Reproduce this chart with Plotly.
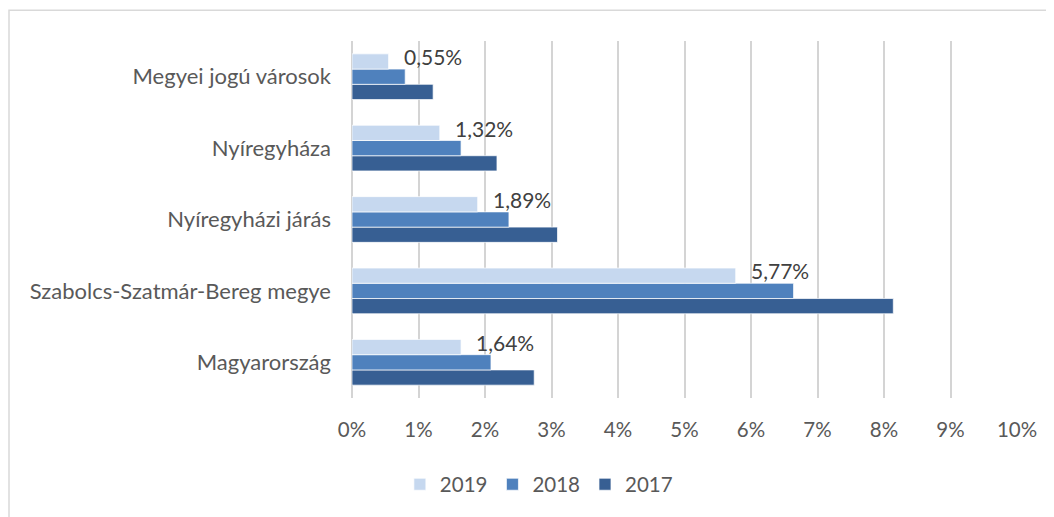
import plotly.graph_objects as go

categories = ["Magyarország", "Szabolcs-Szatmár-Bereg megye", "Nyíregyházi járás",
              "Nyíregyháza", "Megyei jogú városok"]
v2017 = [2.74, 8.14, 3.09, 2.18, 1.22]
v2018 = [2.09, 6.64, 2.36, 1.64, 0.80]
v2019 = [1.64, 5.77, 1.89, 1.32, 0.55]
labels2019 = ["1,64%", "5,77%", "1,89%", "1,32%", "0,55%"]
tick_vals = list(range(0, 11))
tick_text = [f"{t}%" for t in tick_vals]

FONT = "Lato"
fig = go.Figure()
line = dict(color="rgba(255,255,255,0.7)", width=1)
fig.add_trace(go.Bar(y=categories, x=v2017, name="2017", orientation="h",
                     marker=dict(color="#375f93", line=line)))
fig.add_trace(go.Bar(y=categories, x=v2018, name="2018", orientation="h",
                     marker=dict(color="#4f81bd", line=line)))
fig.add_trace(go.Bar(y=categories, x=v2019, name="2019", orientation="h",
                     marker=dict(color="#c6d8ef", line=line)))

for c, v, t in zip(categories, v2019, labels2019):
    fig.add_annotation(x=v, y=c, text=t, showarrow=False, xanchor="left",
                       yanchor="middle", xshift=13, yshift=20,
                       font=dict(family=FONT, size=21, color="#404040"))

# chart border
fig.add_shape(type="rect", xref="paper", yref="paper",
              x0=-0.5158, x1=1.2, y0=-0.5, y1=1.0864,
              line=dict(color="#d9d9d9", width=1.5), fillcolor="rgba(0,0,0,0)")

fig.update_layout(
    width=1046, height=509,
    margin=dict(l=344, r=37, t=33, b=117),
    paper_bgcolor="white", plot_bgcolor="white",
    barmode="group", bargap=0.36, bargroupgap=0,
    font=dict(family=FONT, size=22, color="#595959"),
    showlegend=True,
    legend=dict(orientation="h", traceorder="reversed", x=0.281, xanchor="center",
                y=-0.242, yanchor="middle", font=dict(size=20.5, color="#595959"),
                itemwidth=30),
    xaxis=dict(range=[0, 10], tickvals=tick_vals, ticktext=tick_text,
               tickfont=dict(size=20.5),
               showgrid=True, gridcolor="#d4d4d4", gridwidth=1.6,
               zeroline=True, zerolinecolor="#d4d4d4", zerolinewidth=1.6,
               showline=False, ticks="", ticklabelstandoff=17, fixedrange=True),
    yaxis=dict(categoryorder="array", categoryarray=categories,
               showgrid=False, zeroline=False, showline=False, ticks="",
               ticklabelstandoff=20, fixedrange=True),
)

fig.write_html("out.html")
